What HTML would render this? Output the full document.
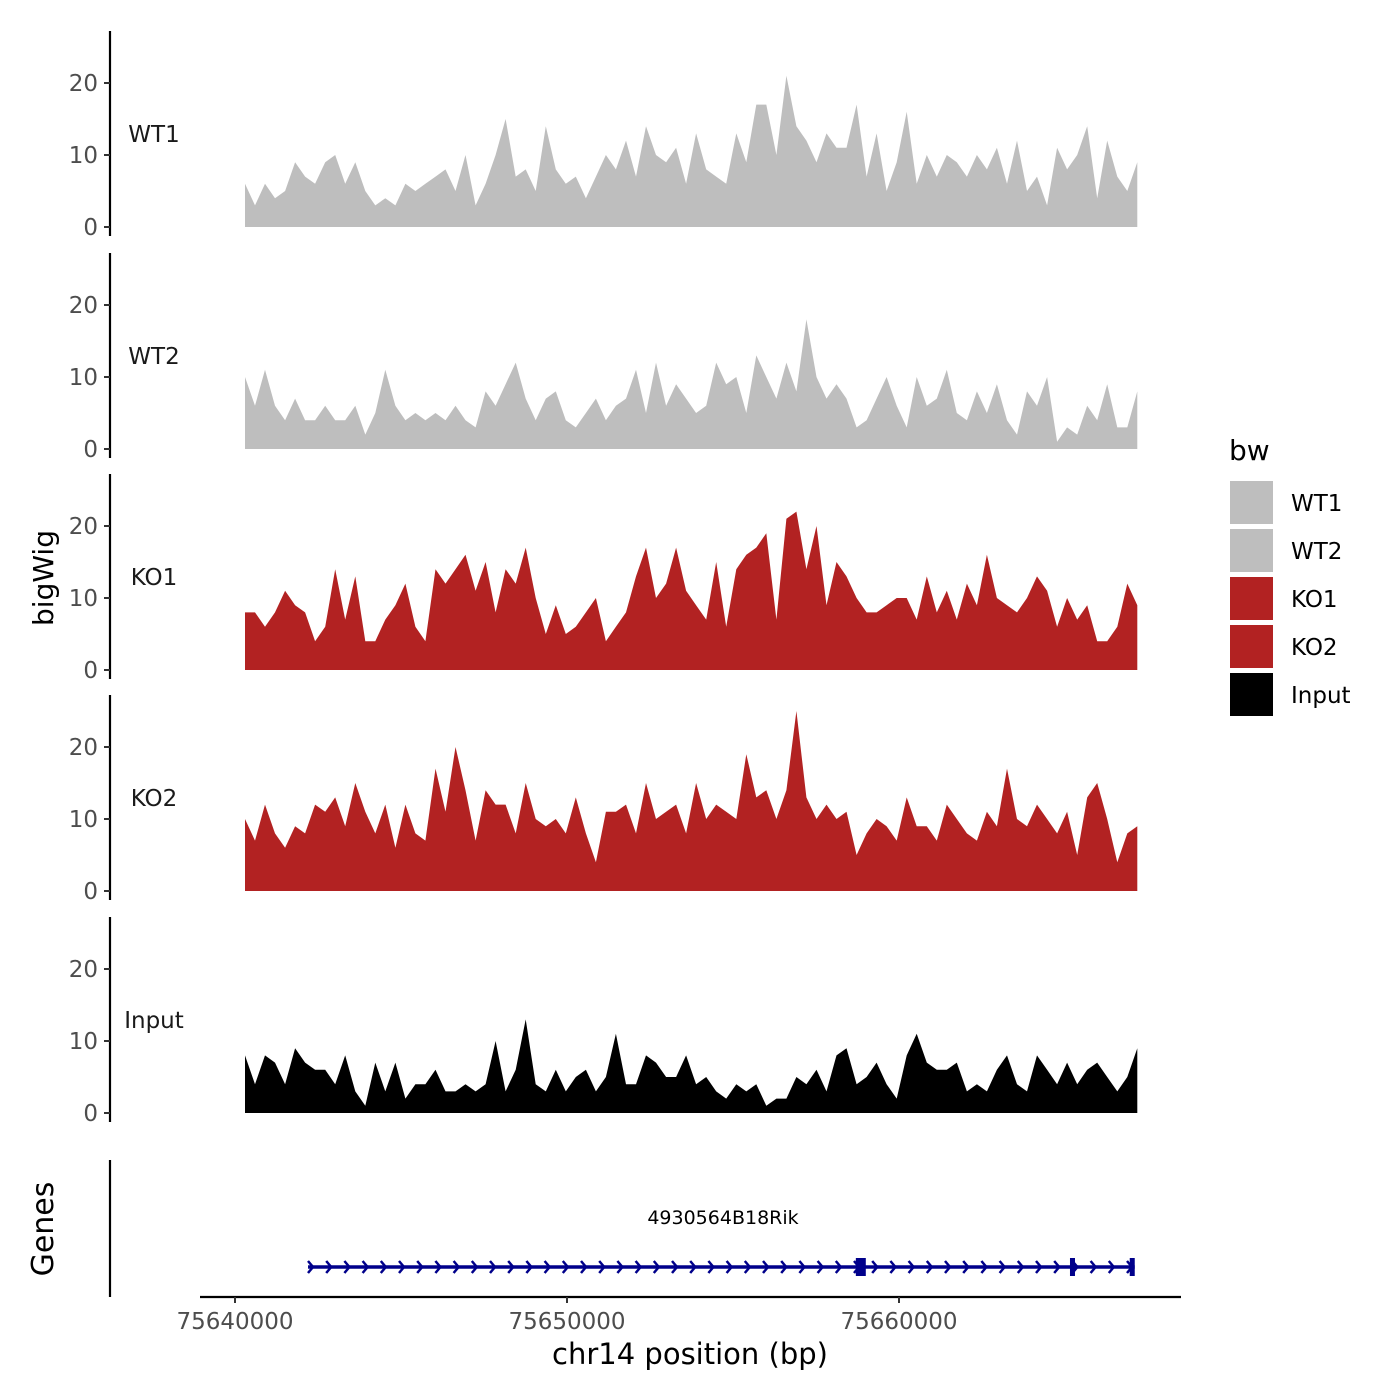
<!DOCTYPE html>
<html><head><meta charset="utf-8"><style>
html,body{margin:0;padding:0;background:#fff;}
svg{display:block;font-family:"DejaVu Sans","Liberation Sans",sans-serif;}
</style></head><body>
<svg id="chart" width="1400" height="1400" viewBox="0 0 1400 1400" xmlns="http://www.w3.org/2000/svg">
<g id="tracks"></g>
<g id="genes"></g>
<text x="0" y="0" transform="translate(53,578) rotate(-90)" font-size="28" text-anchor="middle" fill="#000">bigWig</text>
<text x="0" y="0" transform="translate(53,1229) rotate(-90)" font-size="30" text-anchor="middle" fill="#000">Genes</text>
<text x="690" y="1364" font-size="29" text-anchor="middle" fill="#000">chr14 position (bp)</text>
<g>
<text x="1229" y="460" font-size="28" fill="#000">bw</text>
<g id="legend-items"></g>
</g>
</svg>
<script>
const sampleNames = ["WT1","WT2","KO1","KO2","Input"];
const sampleColors = ["#BEBEBE","#BEBEBE","#B22222","#B22222","#000000"];
const binStart = 75640300;
const binSize = 302;
const yTicks = [0,10,20];
const xTicks = [75640000,75650000,75660000];
const xTickLabels = ["75640000","75650000","75660000"];
const wt1 = [6,3,6,4,5,9,7,6,9,10,6,9,5,3,4,3,6,5,6,7,8,5,10,3,6,10,15,7,8,5,14,8,6,7,4,7,10,8,12,7,14,10,9,11,6,13,8,7,6,13,9,17,17,10,21,14,12,9,13,11,11,17,7,13,5,9,16,6,10,7,10,9,7,10,8,11,6,12,5,7,3,11,8,10,14,4,12,7,5,9];
const wt2 = [10,6,11,6,4,7,4,4,6,4,4,6,2,5,11,6,4,5,4,5,4,6,4,3,8,6,9,12,7,4,7,8,4,3,5,7,4,6,7,11,5,12,6,9,7,5,6,12,9,10,5,13,10,7,12,8,18,10,7,9,7,3,4,7,10,6,3,10,6,7,11,5,4,8,5,9,4,2,8,6,10,1,3,2,6,4,9,3,3,8];
const ko1 = [8,8,6,8,11,9,8,4,6,14,7,13,4,4,7,9,12,6,4,14,12,14,16,11,15,8,14,12,17,10,5,9,5,6,8,10,4,6,8,13,17,10,12,17,11,9,7,15,6,14,16,17,19,7,21,22,14,20,9,15,13,10,8,8,9,10,10,7,13,8,11,7,12,9,16,10,9,8,10,13,11,6,10,7,9,4,4,6,12,9];
const ko2 = [10,7,12,8,6,9,8,12,11,13,9,15,11,8,12,6,12,8,7,17,11,20,14,7,14,12,12,8,15,10,9,10,8,13,8,4,11,11,12,8,15,10,11,12,8,15,10,12,11,10,19,13,14,10,14,25,13,10,12,10,11,5,8,10,9,7,13,9,9,7,12,10,8,7,11,9,17,10,9,12,10,8,11,5,13,15,10,4,8,9];
const inputVals = [8,4,8,7,4,9,7,6,6,4,8,3,1,7,3,7,2,4,4,6,3,3,4,3,4,10,3,6,13,4,3,6,3,5,6,3,5,11,4,4,8,7,5,5,8,4,5,3,2,4,3,4,1,2,2,5,4,6,3,8,9,4,5,7,4,2,8,11,7,6,6,7,3,4,3,6,8,4,3,8,6,4,7,4,6,7,5,3,5,9];
const series = [wt1,wt2,ko1,ko2,inputVals];
const exonStarts = [75658700,75665150,75666950];
const exonEnds = [75659000,75665300,75667100];
const geneStart = 75642200, geneEnd = 75667100;

const NS="http://www.w3.org/2000/svg";
function xScale(bp){return 235+(bp-75640000)*0.0332;}
const zeroYs=[227,449,670,891,1113];
const pxPerUnit=7.2;
function yScale(v,p){return zeroYs[p]-v*pxPerUnit;}
function mk(tag,attrs,parent){const e=document.createElementNS(NS,tag);for(const k in attrs)e.setAttribute(k,attrs[k]);parent.appendChild(e);return e;}

const tracks=document.getElementById('tracks');
series.forEach((vals,p)=>{
  const g=mk('g',{},tracks);
  
  
  const top=zeroYs[p]-196, bot=zeroYs[p]+9;
  const ax=mk('line',{x1:110,x2:110,y1:top,y2:bot,stroke:'#000','stroke-width':2.2},g);
  
  
  yTicks.forEach(t=>{
    const y=yScale(t,p);
    const tk=mk('line',{x1:104,x2:110,y1:y,y2:y,stroke:'#333','stroke-width':2},g);
    
    
    const tl=mk('text',{x:98,y:y+8,'font-size':23,'text-anchor':'end',fill:'#4d4d4d'},g);
    tl.textContent=t;
    
    
  });
  const lab=mk('text',{x:154,y:zeroYs[p]-85,'font-size':23,'text-anchor':'middle',fill:'#1a1a1a'},g);
  lab.textContent=sampleNames[p];
  
  
  let d='';
  vals.forEach((v,i)=>{const x=xScale(binStart+i*binSize);d+=(i?'L':'M')+x.toFixed(1)+','+yScale(v,p).toFixed(1);});
  const xl=xScale(binStart+(vals.length-1)*binSize), x0=xScale(binStart);
  d+='L'+xl.toFixed(1)+','+zeroYs[p]+'L'+x0.toFixed(1)+','+zeroYs[p]+'Z';
  const a=mk('path',{d:d,fill:sampleColors[p]},g);
  
  
});

const genes=document.getElementById('genes');
mk('line',{x1:110,x2:110,y1:1160,y2:1297,stroke:'#000','stroke-width':2.2},genes);
const xa=mk('line',{x1:200,x2:1181,y1:1297,y2:1297,stroke:'#000','stroke-width':2.2},genes);


xTicks.forEach((t,i)=>{
  const x=xScale(t);
  const tk=mk('line',{x1:x,x2:x,y1:1297,y2:1303,stroke:'#333','stroke-width':2},genes);
  
  
  const tl=mk('text',{x:x,y:1329,'font-size':23,'text-anchor':'middle',fill:'#4d4d4d'},genes);
  tl.textContent=xTickLabels[i];
  
  
});
const gx0=xScale(geneStart), gx1=xScale(geneEnd);
const gl=mk('line',{x1:gx0,x2:gx1,y1:1267,y2:1267,stroke:'#00008B','stroke-width':3.5},genes);


for(let x=gx0;x<gx1-6;x+=18.2){
  const ar=mk('path',{d:`M${x.toFixed(1)},1261L${(x+5).toFixed(1)},1267L${x.toFixed(1)},1273`,fill:'none',stroke:'#00008B','stroke-width':2.5},genes);
  
  
}
exonStarts.forEach((s,i)=>{
  const x0=xScale(s), x1=xScale(exonEnds[i]);
  const r=mk('rect',{x:x0,y:1258,width:Math.max(5,x1-x0),height:18,fill:'#00008B'},genes);
  
  
});
const gn=mk('text',{x:723,y:1224,'font-size':19,'text-anchor':'middle',fill:'#000'},genes);
gn.textContent='4930564B18Rik';



const li=document.getElementById('legend-items');
sampleNames.forEach((n,i)=>{
  const y=481+i*48;
  const r=mk('rect',{x:1230,y:y,width:43,height:43,fill:sampleColors[i]},li);
  
  
  const t=mk('text',{x:1291,y:y+30,'font-size':23,fill:'#000'},li);
  t.textContent=n;
  
  
});
</script>
</body></html>
